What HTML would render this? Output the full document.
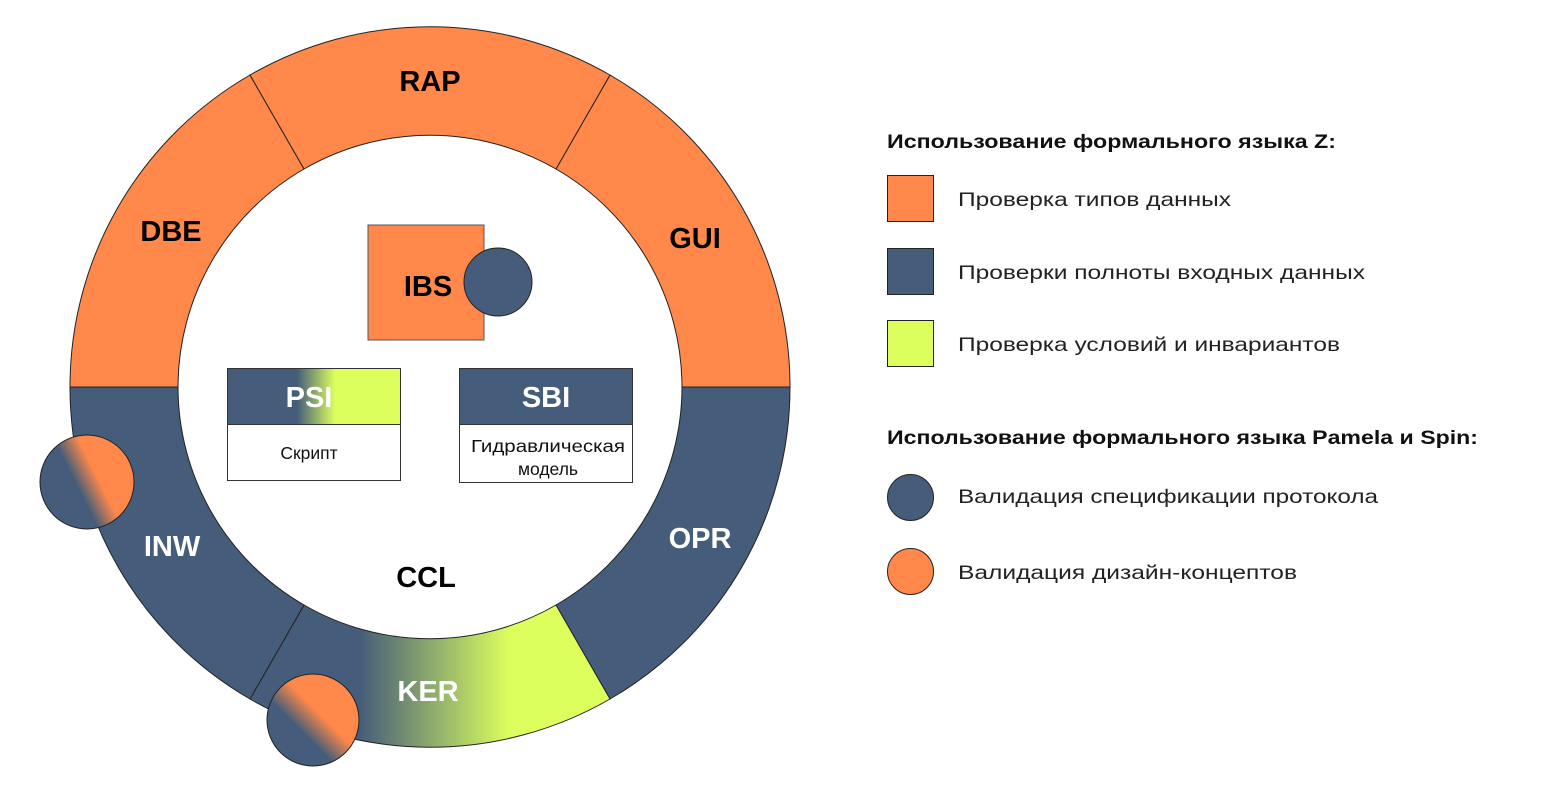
<!DOCTYPE html>
<html><head><meta charset="utf-8"><style>
body{margin:0;background:#fff;}
svg{display:block;font-family:"Liberation Sans","DejaVu Sans",sans-serif;}
.lb{font-weight:bold;font-size:29px;text-anchor:middle;}
.lg{font-size:19.5px;fill:#222;}
.lt{font-size:19.5px;font-weight:bold;fill:#111;}
</style></head><body>
<svg width="1560" height="790" viewBox="0 0 1560 790" xmlns="http://www.w3.org/2000/svg">
<defs>
<linearGradient id="ker" gradientUnits="userSpaceOnUse" x1="360" y1="0" x2="510" y2="0">
<stop offset="0" stop-color="#455D7A"/><stop offset="1" stop-color="#DCFF5E"/></linearGradient>
<linearGradient id="psi" gradientUnits="userSpaceOnUse" x1="297" y1="0" x2="335" y2="0">
<stop offset="0" stop-color="#455D7A"/><stop offset="1" stop-color="#DCFF5E"/></linearGradient>
<linearGradient id="c1" gradientUnits="userSpaceOnUse" x1="78" y1="488" x2="98" y2="478">
<stop offset="0" stop-color="#455D7A"/><stop offset="1" stop-color="#FF884A"/></linearGradient>
<linearGradient id="c2" gradientUnits="userSpaceOnUse" x1="300" y1="730" x2="318" y2="712">
<stop offset="0" stop-color="#455D7A"/><stop offset="1" stop-color="#FF884A"/></linearGradient>
</defs>
<g stroke="#222" stroke-width="1">
<path d="M610 75 A360 360 0 0 1 790 387 L682 387 A252 252 0 0 0 556 169 Z" fill="#FF884A"/>
<path d="M790 387 A360 360 0 0 1 610 699 L556 605 A252 252 0 0 0 682 387 Z" fill="#455D7A"/>
<path d="M610 699 A360 360 0 0 1 250 699 L304 605 A252 252 0 0 0 556 605 Z" fill="url(#ker)"/>
<path d="M250 699 A360 360 0 0 1 70 387 L178 387 A252 252 0 0 0 304 605 Z" fill="#455D7A"/>
<path d="M70 387 A360 360 0 0 1 250 75 L304 169 A252 252 0 0 0 178 387 Z" fill="#FF884A"/>
<path d="M250 75 A360 360 0 0 1 610 75 L556 169 A252 252 0 0 0 304 169 Z" fill="#FF884A"/>
</g>
<text class="lb" x="430" y="91" fill="#000">RAP</text>
<text class="lb" x="171" y="241" fill="#000">DBE</text>
<text class="lb" x="695" y="248" fill="#000">GUI</text>
<text class="lb" x="700" y="548" fill="#fff">OPR</text>
<text class="lb" x="428" y="701" fill="#fff">KER</text>
<text class="lb" x="172" y="556" fill="#fff">INW</text>
<text class="lb" x="426" y="587" fill="#000">CCL</text>
<circle cx="87" cy="482" r="47" fill="url(#c1)" stroke="#222"/>
<circle cx="313" cy="720" r="46" fill="url(#c2)" stroke="#222"/>
<rect x="368" y="225" width="116" height="115" fill="#FF884A" stroke="#555"/>
<circle cx="498" cy="282" r="34" fill="#455D7A" stroke="#222"/>
<text class="lb" x="428" y="296" fill="#000">IBS</text>
<rect x="227.5" y="368.5" width="173" height="112" fill="#fff" stroke="#333"/>
<rect x="227.5" y="368.5" width="173" height="56" fill="url(#psi)" stroke="#333"/>
<text class="lb" x="309" y="407" fill="#fff">PSI</text>
<text x="309" y="459" font-size="17.5" text-anchor="middle" fill="#111">Скрипт</text>
<rect x="459.5" y="368.5" width="173" height="114" fill="#fff" stroke="#333"/>
<rect x="459.5" y="368.5" width="173" height="56" fill="#455D7A" stroke="#333"/>
<text class="lb" x="546" y="407" fill="#fff">SBI</text>
<text x="548" y="452" font-size="17.5" text-anchor="middle" fill="#111" textLength="154" lengthAdjust="spacingAndGlyphs">Гидравлическая</text>
<text x="548" y="475" font-size="17.5" text-anchor="middle" fill="#111">модель</text>
<text class="lt" x="887" y="148" textLength="449" lengthAdjust="spacingAndGlyphs">Использование формального языка Z:</text>
<rect x="887.5" y="175.5" width="46" height="46" fill="#FF884A" stroke="#222"/>
<text class="lg" x="958" y="206" textLength="273" lengthAdjust="spacingAndGlyphs">Проверка типов данных</text>
<rect x="887.5" y="248.5" width="46" height="46" fill="#455D7A" stroke="#222"/>
<text class="lg" x="958" y="279" textLength="407" lengthAdjust="spacingAndGlyphs">Проверки полноты входных данных</text>
<rect x="887.5" y="320.5" width="46" height="46" fill="#DCFF5E" stroke="#222"/>
<text class="lg" x="958" y="351" textLength="382" lengthAdjust="spacingAndGlyphs">Проверка условий и инвариантов</text>
<text class="lt" x="887" y="444" textLength="591" lengthAdjust="spacingAndGlyphs">Использование формального языка Pamela и Spin:</text>
<circle cx="910.5" cy="497.5" r="23" fill="#455D7A" stroke="#222"/>
<text class="lg" x="958" y="503" textLength="420" lengthAdjust="spacingAndGlyphs">Валидация спецификации протокола</text>
<circle cx="910.5" cy="571.5" r="23" fill="#FF884A" stroke="#222"/>
<text class="lg" x="958" y="579" textLength="339" lengthAdjust="spacingAndGlyphs">Валидация дизайн-концептов</text>
</svg>
</body></html>
